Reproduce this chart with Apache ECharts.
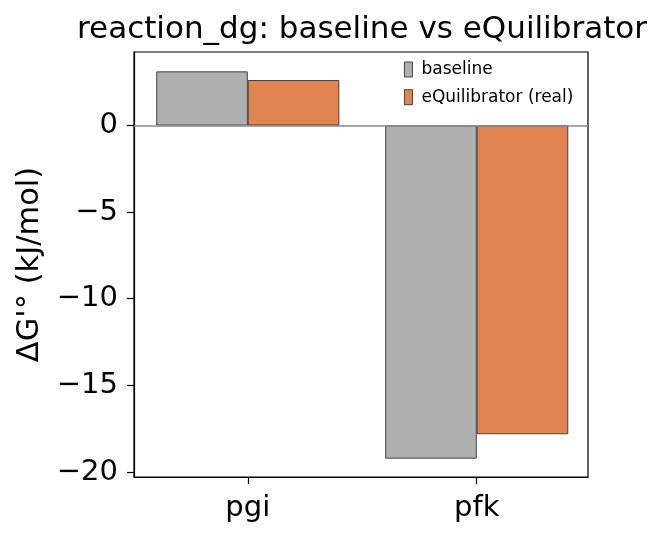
<!DOCTYPE html>
<html>
<head>
<meta charset="utf-8">
<script src="https://cdn.jsdelivr.net/npm/echarts@6/dist/echarts.min.js"></script>
<style>
html,body{margin:0;padding:0;background:#fff;}
#chart{width:663px;height:538px;}
</style>
</head>
<body>
<div id="chart"></div>
<script>
const categories = ['pgi', 'pfk'];
const baselineValues = [3.12, -19.23];
const equilibratorValues = [2.62, -17.82];
const yTickValues = [-20, -15, -10, -5, 0];
const seriesNames = ['baseline', 'eQuilibrator (real)'];

const FONT = 'DejaVu Sans';
const fmt = v => (v < 0 ? '\u2212' + Math.abs(v) : String(v));
const xPositions = categories.map((c, i) => i);

const chart = echarts.init(document.getElementById('chart'), null, {renderer: 'canvas'});
chart.setOption({
  animation: false,
  backgroundColor: '#ffffff',
  title: {
    text: 'reaction_dg: baseline vs eQuilibrator',
    left: 362, textAlign: 'center', top: 14, padding: 0,
    textStyle: {fontFamily: FONT, fontSize: 31, fontWeight: 'normal', color: '#000'}
  },
  legend: {
    orient: 'vertical',
    left: 404, top: 61, padding: 0,
    itemWidth: 8, itemHeight: 15, itemGap: 10.7,
    icon: 'rect',
    itemStyle: {borderColor: '#333333', borderWidth: 0.9},
    textStyle: {fontFamily: FONT, fontSize: 17, color: '#000', padding: [0, 0, 0, 4]},
    data: seriesNames
  },
  grid: {
    left: 134, top: 52, right: 75, bottom: 61,
    show: true, borderColor: '#000', borderWidth: 1.2, backgroundColor: 'transparent'
  },
  xAxis: {
    type: 'value',
    min: -0.497, max: 1.486,
    axisLine: {show: true, onZero: false, lineStyle: {color: '#000', width: 1.2}},
    axisTick: {show: true, length: 7, customValues: xPositions, lineStyle: {color: '#000', width: 1.2}},
    axisLabel: {fontFamily: FONT, fontSize: 29, color: '#000', margin: 17,
      customValues: xPositions, formatter: v => categories[Math.round(v)]},
    splitLine: {show: false}
  },
  yAxis: {
    type: 'value',
    min: -20.29, max: 4.24,
    name: "\u0394G'\u00b0 (kJ/mol)",
    nameLocation: 'middle', nameGap: 86, nameRotate: 90,
    nameTextStyle: {fontFamily: FONT, fontSize: 30.5, color: '#000'},
    axisLine: {show: true, onZero: false, lineStyle: {color: '#000', width: 1.2}},
    axisTick: {show: true, length: 7, customValues: yTickValues, lineStyle: {color: '#000', width: 1.2}},
    axisLabel: {fontFamily: FONT, fontSize: 29, color: '#000', margin: 16, customValues: yTickValues, formatter: fmt},
    splitLine: {show: false}
  },
  series: [
    {
      name: seriesNames[0], type: 'bar',
      data: baselineValues.map((v, i) => [xPositions[i], v]),
      barWidth: 91.5, barGap: '0%',
      itemStyle: {color: '#b0b0b0', borderColor: '#333333', borderWidth: 0.9}
    },
    {
      name: seriesNames[1], type: 'bar',
      data: equilibratorValues.map((v, i) => [xPositions[i], v]),
      barWidth: 91.5, barGap: '0%',
      itemStyle: {color: '#e08552', borderColor: '#333333', borderWidth: 0.9},
      markLine: {
        silent: true, symbol: 'none', label: {show: false},
        lineStyle: {color: '#888888', width: 1.5, type: 'solid'},
        data: [{yAxis: 0}]
      }
    }
  ]
});
</script>
</body>
</html>
